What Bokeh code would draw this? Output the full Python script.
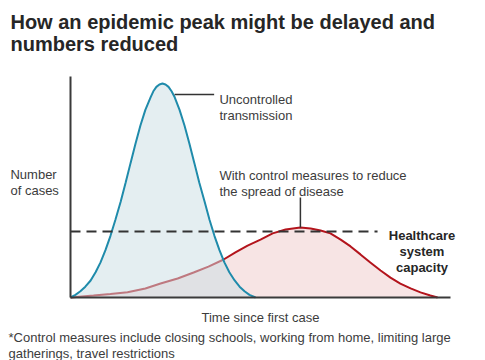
from bokeh.plotting import figure
from bokeh.models import Range1d, Label, FixedTicker
from bokeh.embed import file_html
from bokeh.resources import INLINE

# ---- data (x = time, y = cases, arbitrary units) ----
blue_x = [0, 1.3, 2.6, 3.9, 5.3, 6.6, 7.9, 9.2, 10.5, 11.8, 13.2, 14.5, 15.8, 17.1, 18.4,
          19.7, 21.1, 21.8, 22.6, 23.4, 24.2, 25.0, 25.8, 26.6, 27.4, 28.7, 30.0, 31.3,
          32.6, 33.9, 35.3, 36.6, 37.9, 39.2, 40.5, 41.8, 43.2, 44.5, 45.8, 47.1, 48.7]
blue_y = [0, 1.2, 2.8, 4.9, 7.7, 11.4, 15.9, 21.4, 27.8, 35.1, 43.3, 51.9, 60.8, 69.6, 77.8,
          84.9, 90.7, 93.3, 95.3, 96.4, 96.8, 96.4, 95.3, 93.3, 90.7, 84.9, 77.8, 69.6,
          60.8, 51.9, 43.3, 35.1, 27.8, 21.4, 15.9, 11.4, 7.7, 4.9, 2.8, 1.2, 0]

red_x = [0, 6.05, 10.5, 15.0, 19.7, 23.7, 28.2, 32.4, 36.3, 40.3, 43.4, 46.6, 50.0, 53.2,
         56.6, 60.5, 63.2, 65.8, 68.4, 71.1, 73.7, 76.3, 78.9, 81.6, 84.2, 86.8, 89.5,
         92.1, 94.7, 96.6]
red_y = [0, 0.9, 1.6, 2.4, 4.1, 6.3, 8.6, 11.3, 14.0, 17.2, 20.4, 23.5, 26.2, 29.0,
         30.8, 31.7, 31.2, 30.3, 29.0, 26.2, 23.1, 19.5, 15.8, 12.2, 9.0, 6.3, 4.1,
         2.3, 0.9, 0]

capacity_level = 29.9
capacity_x = [0, 80.8]

title_lines = ["How an epidemic peak might be delayed and", "numbers reduced"]
ylabel_lines = ["Number", "of cases"]
xlabel = "Time since first case"
blue_label = ["Uncontrolled", "transmission"]
red_label = ["With control measures to reduce", "the spread of disease"]
cap_label = ["Healthcare", "system", "capacity"]
footnote = ["*Control measures include closing schools, working from home, limiting large",
            "gatherings, travel restrictions"]

FONT = "Liberation Sans"
TXT = "#3c3c3c"
DARK = "#262626"

# the frame fills the whole canvas; the axes sit at x=0 / y=0 inside it
p = figure(width=485, height=360, output_backend="svg", toolbar_location=None,
           x_range=Range1d(-18.42, 109.21), y_range=Range1d(-28.51, 134.39),
           min_border=0)
p.outline_line_color = None
p.grid.visible = False
p.background_fill_color = "white"
p.border_fill_color = "white"

for ax in (p.xaxis[0], p.yaxis[0]):
    ax.fixed_location = 0
    ax.bounds = (0, 100)
    ax.ticker = FixedTicker(ticks=[])
    ax.major_tick_line_color = None
    ax.minor_tick_line_color = None
    ax.major_label_standoff = 0
    ax.major_tick_out = 0
    ax.major_tick_in = 0
    ax.axis_line_width = 2
    ax.axis_line_color = "#3a3a3a"

# red (controlled) curve
p.varea(x=red_x, y1=0, y2=red_y, fill_color="#f7e4e4")
p.line(red_x, red_y, line_color="#b3141c", line_width=2)
# blue (uncontrolled) curve, semi-transparent fill over the red
p.varea(x=blue_x, y1=0, y2=blue_y, fill_color="#c9dde3", fill_alpha=0.5)
p.line(blue_x, blue_y, line_color="#1f8bab", line_width=2)

# capacity line
p.line(capacity_x, [capacity_level] * 2, line_color="#333333", line_width=2, line_dash="10 6")

# leader lines
p.line([27.4, 37.8], [91.9, 91.9], line_color="#333333", line_width=1.5)
ri = red_y.index(max(red_y))
p.line([red_x[ri], red_x[ri]], [red_y[ri], 45.3], line_color="#333333", line_width=1.5)


def lab(x, y, t, size="13px", color=TXT, style="normal", align="left"):
    p.add_layout(Label(x=x, y=y, text=t, text_font=FONT, text_font_size=size,
                       text_color=color, text_font_style=style, text_align=align,
                       text_baseline="alphabetic"))


lab(-15.8, 124.7, title_lines[0], "20px", DARK, "bold")
lab(-15.8, 114.7, title_lines[1], "20px", DARK, "bold")
lab(-15.8, 55.7, ylabel_lines[0])
lab(-15.8, 48.4, ylabel_lines[1])
lab(39.2, 89.5, blue_label[0])
lab(39.2, 82.4, blue_label[1])
lab(39.2, 55.2, red_label[0])
lab(39.2, 48.0, red_label[1])
lab(92.5, 28.1, cap_label[0], "13px", DARK, "bold", "center")
lab(92.5, 20.8, cap_label[1], "13px", DARK, "bold", "center")
lab(92.5, 13.6, cap_label[2], "13px", DARK, "bold", "center")
lab(50.0, -8.9, xlabel, align="center")
lab(-16.3, -18.1, footnote[0])
lab(-16.3, -25.3, footnote[1])

open("out.html", "w").write(file_html(p, INLINE))
